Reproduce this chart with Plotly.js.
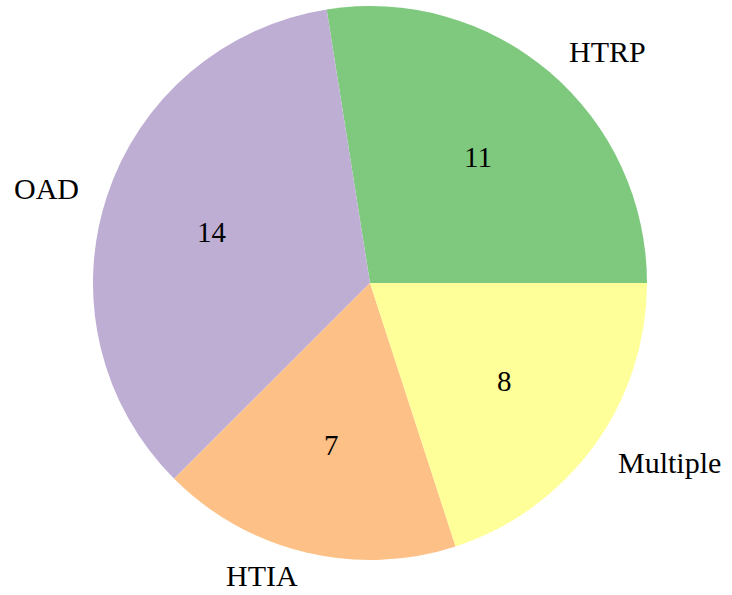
<!DOCTYPE html>
<html>
<head>
<meta charset="utf-8">
<script src="https://cdn.plot.ly/plotly-3.0.1.min.js"></script>
<style>html,body{margin:0;padding:0;background:#fff;}#chart{width:732px;height:595px;}</style>
</head>
<body>
<div id="chart"></div>
<script>
const categories = ["HTRP", "OAD", "HTIA", "Multiple"];
const values = [11, 14, 7, 8];
const colors = ["#7fc97f", "#beaed4", "#fdc086", "#ffff99"];

const W = 732, H = 595;
const cx = 370, cy = 283, r = 277;
const FONT = "Liberation Serif";
const LABEL_SIZE = 30, VALUE_SIZE = 29;

const total = values.reduce((a, b) => a + b, 0);
const annotations = [];
let start = 0;
values.forEach((v, i) => {
  const sweep = v / total * 360;
  const mid = (start + sweep / 2) * Math.PI / 180;
  start += sweep;
  const c = Math.cos(mid), s = Math.sin(mid);
  annotations.push({
    xref: "paper", yref: "paper",
    x: (cx + 0.6 * r * c) / W, y: 1 - (cy - 0.6 * r * s) / H,
    text: String(v), showarrow: false,
    xanchor: "center", yanchor: "middle", borderpad: 0,
    font: {family: FONT, size: VALUE_SIZE, color: "#000"}
  });
  // keep the label box inside the figure
  let py = cy - 1.1 * r * s;
  const half = LABEL_SIZE * 0.66;
  py = Math.min(Math.max(py, half), H - half);
  annotations.push({
    xref: "paper", yref: "paper",
    x: (cx + 1.1 * r * c) / W, y: 1 - py / H,
    text: categories[i], showarrow: false,
    xanchor: c >= 0 ? "left" : "right", yanchor: "middle", borderpad: 0,
    font: {family: FONT, size: LABEL_SIZE, color: "#000"}
  });
});

// Plotly's counterclockwise pies end the first slice at `rotation`;
// shift so the first slice starts at 3 o'clock.
const rotation = 90 - values[0] / total * 360;

const trace = {
  type: "pie",
  labels: categories,
  values: values,
  sort: false,
  direction: "counterclockwise",
  rotation: rotation,
  marker: {colors: colors, line: {width: 0}},
  textinfo: "none",
  hoverinfo: "none",
  domain: {x: [(cx - r) / W, (cx + r) / W], y: [1 - (cy + r) / H, 1 - (cy - r) / H]}
};

Plotly.newPlot("chart", [trace], {
  width: W, height: H,
  margin: {l: 0, r: 0, t: 0, b: 0},
  showlegend: false,
  paper_bgcolor: "#fff",
  font: {family: FONT},
  annotations: annotations
}, {staticPlot: true});
</script>
</body>
</html>
